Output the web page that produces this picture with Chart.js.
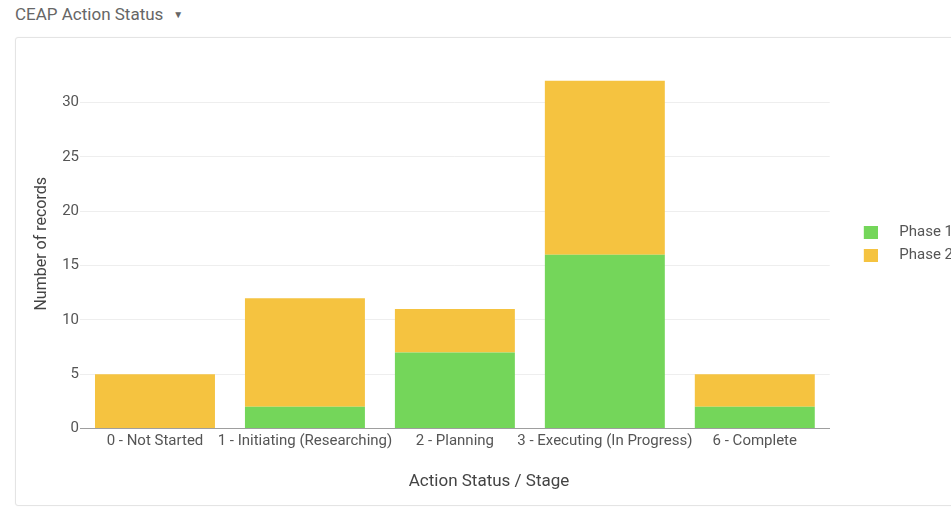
<!DOCTYPE html>
<html>
<head>
<meta charset="utf-8">
<script src="https://cdn.jsdelivr.net/npm/chart.js@4/dist/chart.umd.min.js"></script>
<style>
  html, body { margin: 0; padding: 0; background: #fff; overflow: hidden; width: 951px; height: 507px; }
  .heading { position: absolute; left: 15px; top: 4px; font: 17px Roboto, sans-serif; color: #666; }
  .heading .caret { font-size: 10px; margin-left: 10px; position: relative; top: -2px; }
  .card { position: absolute; left: 15px; top: 37px; width: 990px; height: 467px; border: 1px solid #e4e4e4; border-radius: 3px; background: #fff; box-shadow: 0 0 2px rgba(0,0,0,0.04); }
  .wrap { position: absolute; left: 0; top: 0; width: 1000px; height: 507px; }
</style>
</head>
<body>
<div class="heading">CEAP Action Status<span class="caret">&#9660;</span></div>
<div class="card"></div>
<div class="wrap"><canvas id="chart" width="1000" height="507"></canvas></div>
<script>
// Action stages on the x axis
const stages = [
  '0 - Not Started',
  '1 - Initiating (Researching)',
  '2 - Planning',
  '3 - Executing (In Progress)',
  '6 - Complete'
];
// Record counts per stage
const phase1 = [0, 2, 7, 16, 2];
const phase2 = [5, 10, 4, 16, 3];
const seriesNames = ['Phase 1', 'Phase 2'];
const yTicks = [0, 5, 10, 15, 20, 25, 30];

const green = '#74d65a';
const yellow = '#f5c340';

// Legend swatch: a square sitting at the right end of a wider transparent box,
// which leaves a wide gap between the swatch and its label.
function swatch(color) {
  const c = document.createElement('canvas');
  c.width = 26;
  c.height = 13;
  const g = c.getContext('2d');
  g.fillStyle = color;
  g.fillRect(12, 0, 14, 13);
  return c;
}

new Chart(document.getElementById('chart'), {
  type: 'bar',
  data: {
    labels: stages,
    datasets: [
      { label: seriesNames[0], data: phase1, backgroundColor: green, borderWidth: 0 },
      { label: seriesNames[1], data: phase2, backgroundColor: yellow, borderWidth: 0 }
    ]
  },
  options: {
    responsive: false,
    animation: false,
    layout: { padding: { top: 59, right: 37, bottom: 0, left: 15 } },
    datasets: { bar: { categoryPercentage: 0.8, barPercentage: 1.0 } },
    plugins: {
      // x-axis caption, centred across the whole card rather than the plot
      title: {
        display: true,
        position: 'bottom',
        text: 'Action Status / Stage',
        color: '#444',
        padding: { top: 0, bottom: 15 },
        font: { family: 'Roboto', size: 17, weight: 'normal' }
      },
      legend: {
        position: 'right',
        fullSize: false,
        labels: {
          usePointStyle: true,
          pointStyleWidth: 54,
          boxHeight: 13,
          padding: 8,
          color: '#555',
          font: { family: 'Roboto', size: 15 },
          generateLabels(chart) {
            const items = Chart.defaults.plugins.legend.labels.generateLabels(chart);
            items.forEach(item => {
              item.pointStyle = swatch(chart.data.datasets[item.datasetIndex].backgroundColor);
            });
            return items;
          }
        }
      },
      tooltip: { enabled: false }
    },
    scales: {
      x: {
        stacked: true,
        grid: { display: false, drawTicks: false },
        border: { display: true, color: '#9e9e9e', width: 1 },
        ticks: {
          color: '#555',
          padding: 4,
          maxRotation: 0,
          autoSkip: false,
          font: { family: 'Roboto', size: 15 }
        },
        afterFit(scale) { scale.height = 43; }
      },
      y: {
        stacked: true,
        min: 0,
        max: 34,
        grid: { color: '#eeeeee', drawTicks: false },
        border: { display: false },
        afterBuildTicks(scale) {
          scale.ticks = yTicks.map(v => ({ value: v }));
        },
        ticks: {
          color: '#555',
          padding: 1,
          font: { family: 'Roboto', size: 15 }
        },
        title: {
          display: true,
          text: 'Number of records',
          color: '#444',
          padding: { top: 17, bottom: 0 },
          font: { family: 'Roboto', size: 16 }
        },
        afterFit(scale) { scale.width = 65; }
      }
    }
  }
});
</script>
</body>
</html>
